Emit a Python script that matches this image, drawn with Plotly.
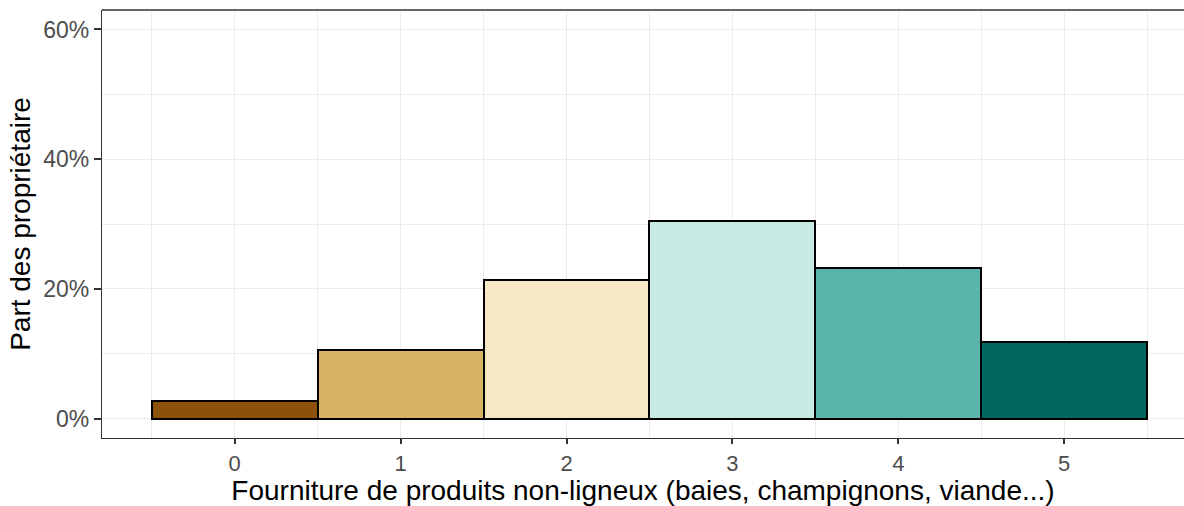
import plotly.graph_objects as go

# Share of owners by number of non-wood products supplied
categories = [0, 1, 2, 3, 4, 5]
shares = [0.0267, 0.1055, 0.2137, 0.3047, 0.2318, 0.1181]
colors = ["#8C510A", "#D8B365", "#F6E8C3", "#C7EAE5", "#5AB4AC", "#01665E"]

y_ticks = [0, 0.2, 0.4, 0.6]
y_tick_labels = ["0%", "20%", "40%", "60%"]

x_title = "Fourniture de produits non-ligneux (baies, champignons, viande...)"
y_title = "Part des propriétaire"

font_family = "Liberation Sans, Arial, sans-serif"
grid_color = "#EBEBEB"
frame_color = "#333333"

fig = go.Figure(
    go.Bar(
        x=categories,
        y=shares,
        width=1,
        marker=dict(color=colors, line=dict(color="black", width=2)),
        showlegend=False,
    )
)

fig.update_layout(
    width=1184,
    height=506,
    margin=dict(l=102, r=0, t=10, b=68),
    paper_bgcolor="white",
    plot_bgcolor="white",
    bargap=0,
    font=dict(family=font_family, color="#4D4D4D"),
)

fig.update_xaxes(
    range=[-0.8, 5.722],
    tickmode="array",
    tickvals=categories,
    ticktext=[str(c) for c in categories],
    tickfont=dict(size=22, color="#4D4D4D"),
    ticks="outside",
    ticklen=5,
    tickwidth=1.5,
    tickcolor=frame_color,
    showgrid=True,
    gridcolor=grid_color,
    gridwidth=1.3,
    minor=dict(tick0=0.5, dtick=1, showgrid=True, gridcolor=grid_color, gridwidth=0.7),
    showline=True,
    linecolor=frame_color,
    linewidth=1.3,
    mirror=False,
    zeroline=False,
    title=dict(text=x_title, font=dict(size=28, color="black"), standoff=7),
)

fig.update_yaxes(
    range=[-0.03, 0.63],
    tickmode="array",
    tickvals=y_ticks,
    ticktext=y_tick_labels,
    tickfont=dict(size=23, color="#4D4D4D"),
    ticks="outside",
    ticklen=7,
    tickwidth=1.5,
    tickcolor=frame_color,
    showgrid=True,
    gridcolor=grid_color,
    gridwidth=1.3,
    minor=dict(tick0=0.1, dtick=0.2, showgrid=True, gridcolor=grid_color, gridwidth=0.7),
    showline=True,
    linecolor=frame_color,
    linewidth=1.3,
    mirror=False,
    zeroline=False,
    title=dict(text=y_title, font=dict(size=28, color="black"), standoff=4),
)

# Top edge of the panel frame
fig.add_shape(
    type="line", xref="paper", yref="paper",
    x0=0, x1=1, y0=1, y1=1,
    line=dict(color=frame_color, width=1.3),
)

fig.write_html("out.html")
